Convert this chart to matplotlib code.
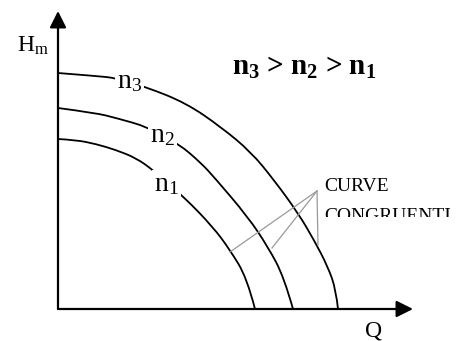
import matplotlib
matplotlib.use("Agg")
import matplotlib.pyplot as plt
from matplotlib.patches import Rectangle, PathPatch
from matplotlib.path import Path

plt.rcParams['font.family'] = ['Liberation Serif', 'DejaVu Serif']
plt.rcParams['mathtext.fontset'] = 'custom'
plt.rcParams['mathtext.rm'] = 'Liberation Serif'
plt.rcParams['mathtext.bf'] = 'Liberation Serif:bold'
plt.rcParams['mathtext.it'] = 'Liberation Serif:italic'

# head curves (Q, H), origin at the axes corner
q_n3 = [0, 38, 58, 88, 128, 163, 193, 216, 240, 256, 270, 278, 280]
h_n3 = [236, 233, 231, 222, 206, 182, 157, 129, 96, 69, 42, 19, 0]
q_n2 = [0, 38, 58, 90, 121, 143, 156, 190, 210, 226, 235]
h_n2 = [201, 196, 191, 182, 165, 146, 132, 92, 62, 32, 0]
q_n1 = [0, 18, 38, 58, 78, 95, 126, 155, 172, 189, 197]
h_n1 = [170, 169, 165, 159, 151, 139, 112, 82, 59, 31, 0]

# pointer lines for "CURVE CONGRUENTI"
apex = (259, 118)
pointer_ends = [(172, 57), (214, 61), (260, 64)]


def smooth_path(xs, ys):
    # quadratic b-spline through the read points, so the hand drawn look stays smooth
    pts = list(zip(xs, ys))
    verts = [pts[0]]
    codes = [Path.MOVETO]
    for i in range(1, len(pts) - 2):
        mid = ((pts[i][0] + pts[i + 1][0]) / 2, (pts[i][1] + pts[i + 1][1]) / 2)
        verts += [pts[i], mid]
        codes += [Path.CURVE3, Path.CURVE3]
    verts += [pts[-2], pts[-1]]
    codes += [Path.CURVE3, Path.CURVE3]
    return Path(verts, codes)


fig = plt.figure(figsize=(4.57, 3.41), dpi=100)
ax = fig.add_axes([0, 0, 1, 1])
ax.set_xlim(-58, 399)
ax.set_ylim(-32, 309)
ax.axis('off')

# axes with arrows
arrow = dict(arrowstyle='-|>,head_length=1.0,head_width=0.5', mutation_scale=10,
             color='black', lw=1.6, shrinkA=0, shrinkB=0)
ax.annotate('', xy=(0, 298), xytext=(0, 0), arrowprops=arrow)
ax.annotate('', xy=(355, 0), xytext=(0, 0), arrowprops=arrow)

for q, h in [(q_n3, h_n3), (q_n2, h_n2), (q_n1, h_n1)]:
    ax.add_patch(PathPatch(smooth_path(q, h), facecolor='none', edgecolor='black',
                           lw=1.3, zorder=2))

for end in pointer_ends:
    ax.plot([apex[0], end[0]], [apex[1], end[1]], color='#999999', lw=0.9, zorder=3)

lbl_box = dict(facecolor='white', edgecolor='none', pad=1.5)
ax.text(59, 221, r'n$_3$', fontsize=20, ha='left', va='baseline', bbox=lbl_box, zorder=4)
ax.text(92, 167, r'n$_2$', fontsize=20, ha='left', va='baseline', bbox=lbl_box, zorder=4)
ax.text(96, 118, r'n$_1$', fontsize=20, ha='left', va='baseline', bbox=lbl_box, zorder=4)

ax.text(174, 234, r'n$_\mathbf{3}$ > n$_\mathbf{2}$ > n$_\mathbf{1}$', fontsize=21,
        fontweight='bold', ha='left', va='baseline')
ax.text(-41, 257, r'H$_\mathrm{m}$', fontsize=17, ha='left', va='baseline')
ax.text(307, -27, 'Q', fontsize=17, ha='left', va='baseline')

ax.text(266, 118, 'CURVE', fontsize=14, ha='left', va='baseline')
ax.text(266, 88, 'CONGRUENTI', fontsize=14, ha='left', va='baseline')
# the lower edge of the second word is cut off in the original
ax.add_patch(Rectangle((262, 80), 140, 12, facecolor='white', edgecolor='none', zorder=5))

fig.savefig('out.png', dpi=100)
